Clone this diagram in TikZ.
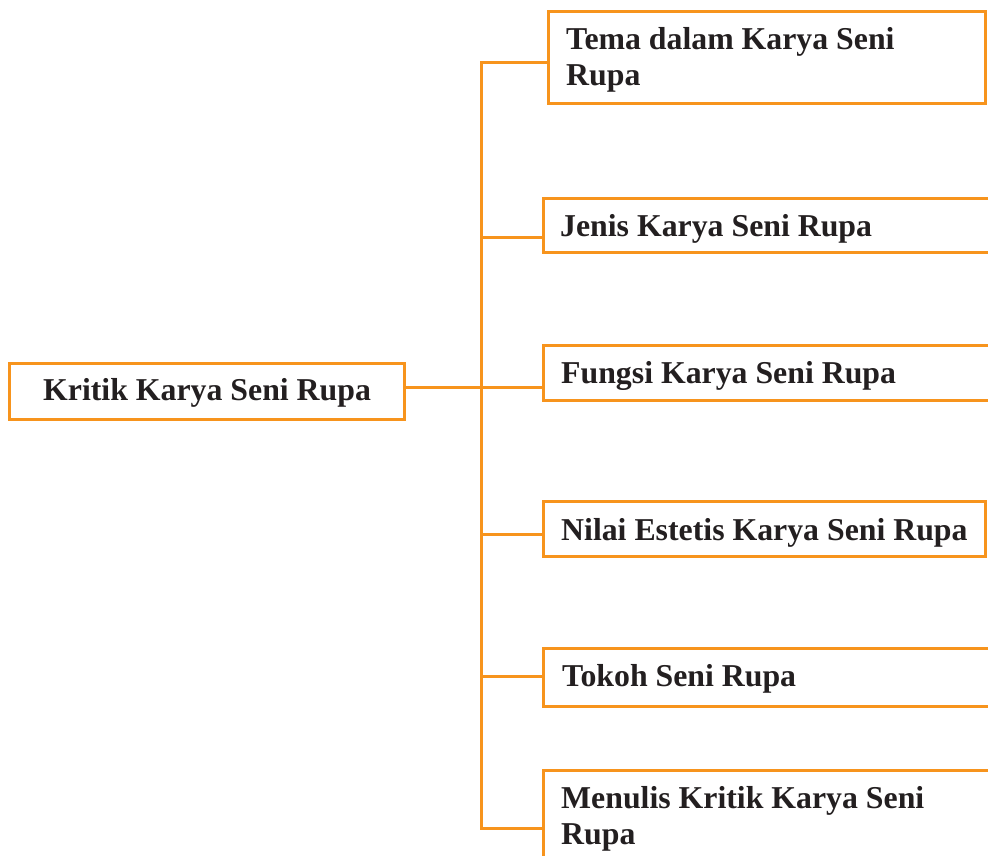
\documentclass[tikz,border=0pt]{standalone}
\usepackage{fontspec}
\setmainfont{Liberation Serif}
\definecolor{borange}{HTML}{F7941D}
\definecolor{tdark}{HTML}{231F20}
\tikzset{
  box/.style={draw=borange, line width=3pt, inner sep=0pt, outer sep=0pt, fill=white},
  lbl/.style={anchor=base west, inner sep=0pt, text=tdark, font=\fontsize{31.8}{36}\selectfont\bfseries, align=left},
  conn/.style={draw=borange, line width=3pt, line join=miter},
}
\begin{document}
\begin{tikzpicture}[x=1pt,y=-1pt]
\clip (0,0) rectangle (988,855);
\fill[white] (0,0) rectangle (988,855);
% boxes
\node[box, anchor=north west, minimum width=395pt, minimum height=56pt] (main) at (9,363) {};
\node[box, anchor=north west, minimum width=437pt, minimum height=92pt] (b1) at (548,11) {};
\node[box, anchor=north west, minimum width=460pt, minimum height=54pt] (b2) at (543,198) {};
\node[box, anchor=north west, minimum width=460pt, minimum height=55pt] (b3) at (543,345) {};
\node[box, anchor=north west, minimum width=442pt, minimum height=55pt] (b4) at (543,501) {};
\node[box, anchor=north west, minimum width=460pt, minimum height=58pt] (b5) at (543,648) {};
\node[box, anchor=north west, minimum width=460pt, minimum height=110pt] (b6) at (543,770) {};
% texts (two-line nodes: base is the last line)
\node[lbl] (t0) at (43,400) {Kritik Karya Seni Rupa};
\node[lbl] (t1) at (566,85) {Tema dalam Karya Seni\\Rupa};
\node[lbl] (t2) at (560,236) {Jenis Karya Seni Rupa};
\node[lbl] (t3) at (561,383) {Fungsi Karya Seni Rupa};
\node[lbl] (t4) at (561,540) {Nilai Estetis Karya Seni Rupa};
\node[lbl] (t5) at (562,686) {Tokoh Seni Rupa};
\node[lbl] (t6) at (561,844) {Menulis Kritik Karya Seni\\Rupa};
% trunk coordinates
\coordinate (c1) at (481,62);
\coordinate (c2) at (481,237);
\coordinate (c3) at (481,387);
\coordinate (c4) at (481,534);
\coordinate (c5) at (481,676);
\coordinate (c6) at (481,828);
% connectors
\draw[conn] (b1.west |- c1) -- (c1) -- (c6) -- (b6.west |- c6);
\draw[conn] (main.east |- c3) -- (c3);
\draw[conn] (c2) -- (b2.west |- c2);
\draw[conn] (c3) -- (b3.west |- c3);
\draw[conn] (c4) -- (b4.west |- c4);
\draw[conn] (c5) -- (b5.west |- c5);
\end{tikzpicture}
\end{document}
